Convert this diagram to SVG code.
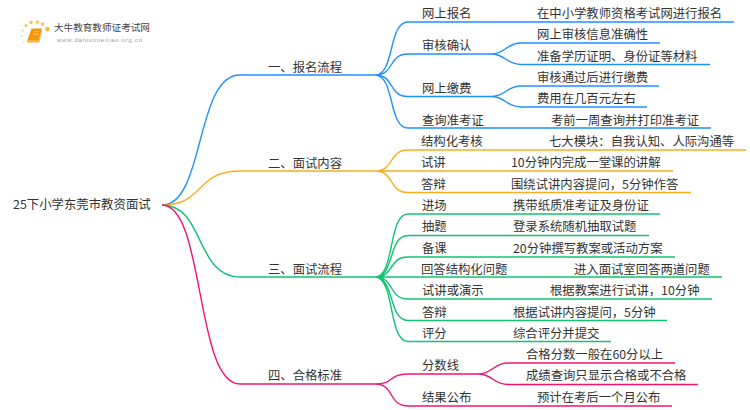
<svg xmlns="http://www.w3.org/2000/svg" width="750" height="410" viewBox="0 0 750 410">
<style>
text{font-family:"Noto Sans CJK SC","Noto Sans",sans-serif;font-size:12.35px;fill:#333}
.c path{fill:none;stroke-width:1.4}
.b path{stroke:#1e90ff}.o path{stroke:#f9ad1d}.g path{stroke:#12c373}.p path{stroke:#f5136f}
</style>
<rect width="750" height="410" fill="#fff"/>
<g id="logo">
<g fill="#f9c25a"><circle cx="47.500" cy="29" r="2.300" fill="#f8b83c"/><circle cx="42.500" cy="24" r="1.800"/><circle cx="37.500" cy="22" r="1.800"/><circle cx="31" cy="22.500" r="1.700"/><circle cx="26" cy="25.500" r="1.500"/><circle cx="22.500" cy="30.500" r="1.200" fill="#fbdca0"/><circle cx="22" cy="36" r="1.100" fill="#fbdca0"/><circle cx="23.500" cy="42.500" r="1" fill="#fce6bd"/></g>
<path d="M31.500 28.500h10.500l-3 11.500h-11.500z" fill="#f5960f"/><path d="M27.500 40h11.500l3-11.500v2.500l-2.800 11.500h-11.700q-1-1.500 0-2.500z" fill="#f9b04a"/><path d="M34 31.500h5M33.300 34h5" stroke="#fcd089" stroke-width=".8" fill="none"/>
<text x="54" y="30.500" style="font-size:9.600px;fill:#444">大牛教育教师证考试网</text>
<text x="57" y="41.500" style="font-size:6px;letter-spacing:.77px;fill:#999;font-family:'Liberation Sans',sans-serif">www.daniuxuexiao.org.cn</text>
</g>
<g id="connectors" class="c">
<g class="b"><path d="M162 205C205 205 195 75 240 75H375" stroke-width="1.600"/><path d="M375 75C395 75 388 22 408 22H734M375 75C395 75 388 54 408 54H491M375 75C395 75 388 96.500 408 96.500H491M375 75C395 75 388 128 408 128H711M491 54C506 54 506 43 521 43H660M491 54C506 54 506 64.500 521 64.500H710M491 96.500C506 96.500 506 86 521 86H659M491 96.500C506 96.500 506 107 521 107H647"/></g>
<g class="o"><path d="M162 205C205 205 195 171 240 171H375"/><path d="M375 171C395 171 388 150 408 150H746M375 171H673M375 171C395 171 388 192.500 408 192.500H691"/></g>
<g class="g"><path d="M162 205C205 205 195 277 240 277H375"/><path d="M375 277C395 277 388 214 408 214H660M375 277C395 277 388 235.500 408 235.500H649M375 277C395 277 388 257 408 257H675M375 277H722M375 277C395 277 388 299 408 299H712M375 277C395 277 388 320.500 408 320.500H667M375 277C395 277 388 341.500 408 341.500H611"/></g>
<g class="p"><path d="M162 205C205 205 195 384 240 384H375"/><path d="M375 384C395 384 388 374 408 374H478M375 384C395 384 388 406 408 406H672M478 374C493 374 493 363 508 363H675M478 374C493 374 493 384.500 508 384.500H698"/></g>
</g>
<g id="root"><text x="13" y="209" style="font-size:12.4px">25下小学东莞市教资面试</text></g>
<g id="n1"><text x="268" y="71.500">一、报名流程</text></g>
<g id="n2"><text x="268" y="167.500">二、面试内容</text></g>
<g id="n3"><text x="268" y="274">三、面试流程</text></g>
<g id="n4"><text x="268" y="380">四、合格标准</text></g>
<g id="n11"><text x="422" y="18">网上报名</text><text x="537" y="18">在中小学教师资格考试网进行报名</text></g>
<g id="n12"><text x="422" y="50">审核确认</text><text x="537" y="39">网上审核信息准确性</text><text x="537" y="61">准备学历证明、身份证等材料</text></g>
<g id="n13"><text x="422" y="93">网上缴费</text><text x="537" y="82">审核通过后进行缴费</text><text x="537" y="103">费用在几百元左右</text></g>
<g id="n14"><text x="422" y="125">查询准考证</text><text x="551" y="125">考前一周查询并打印准考证</text></g>
<g id="n21"><text x="421" y="146">结构化考核</text><text x="549" y="146">七大模块：自我认知、人际沟通等</text></g>
<g id="n22"><text x="421" y="167">试讲</text><text x="511" y="167">10分钟内完成一堂课的讲解</text></g>
<g id="n23"><text x="421" y="189">答辩</text><text x="511" y="189">围绕试讲内容提问，5分钟作答</text></g>
<g id="n31"><text x="422" y="210">进场</text><text x="513" y="210">携带纸质准考证及身份证</text></g>
<g id="n32"><text x="422" y="231">抽题</text><text x="513" y="231">登录系统随机抽取试题</text></g>
<g id="n33"><text x="422" y="253">备课</text><text x="513" y="253">20分钟撰写教案或活动方案</text></g>
<g id="n34"><text x="421" y="274">回答结构化问题</text><text x="574" y="274">进入面试室回答两道问题</text></g>
<g id="n35"><text x="422" y="295">试讲或演示</text><text x="550" y="295">根据教案进行试讲，10分钟</text></g>
<g id="n36"><text x="422" y="317">答辩</text><text x="513" y="317">根据试讲内容提问，5分钟</text></g>
<g id="n37"><text x="422" y="338">评分</text><text x="513" y="338">综合评分并提交</text></g>
<g id="n41"><text x="422" y="370">分数线</text><text x="526" y="359">合格分数一般在60分以上</text><text x="526" y="380">成绩查询只显示合格或不合格</text></g>
<g id="n42"><text x="422" y="402">结果公布</text><text x="537" y="402">预计在考后一个月公布</text></g>
</svg>
